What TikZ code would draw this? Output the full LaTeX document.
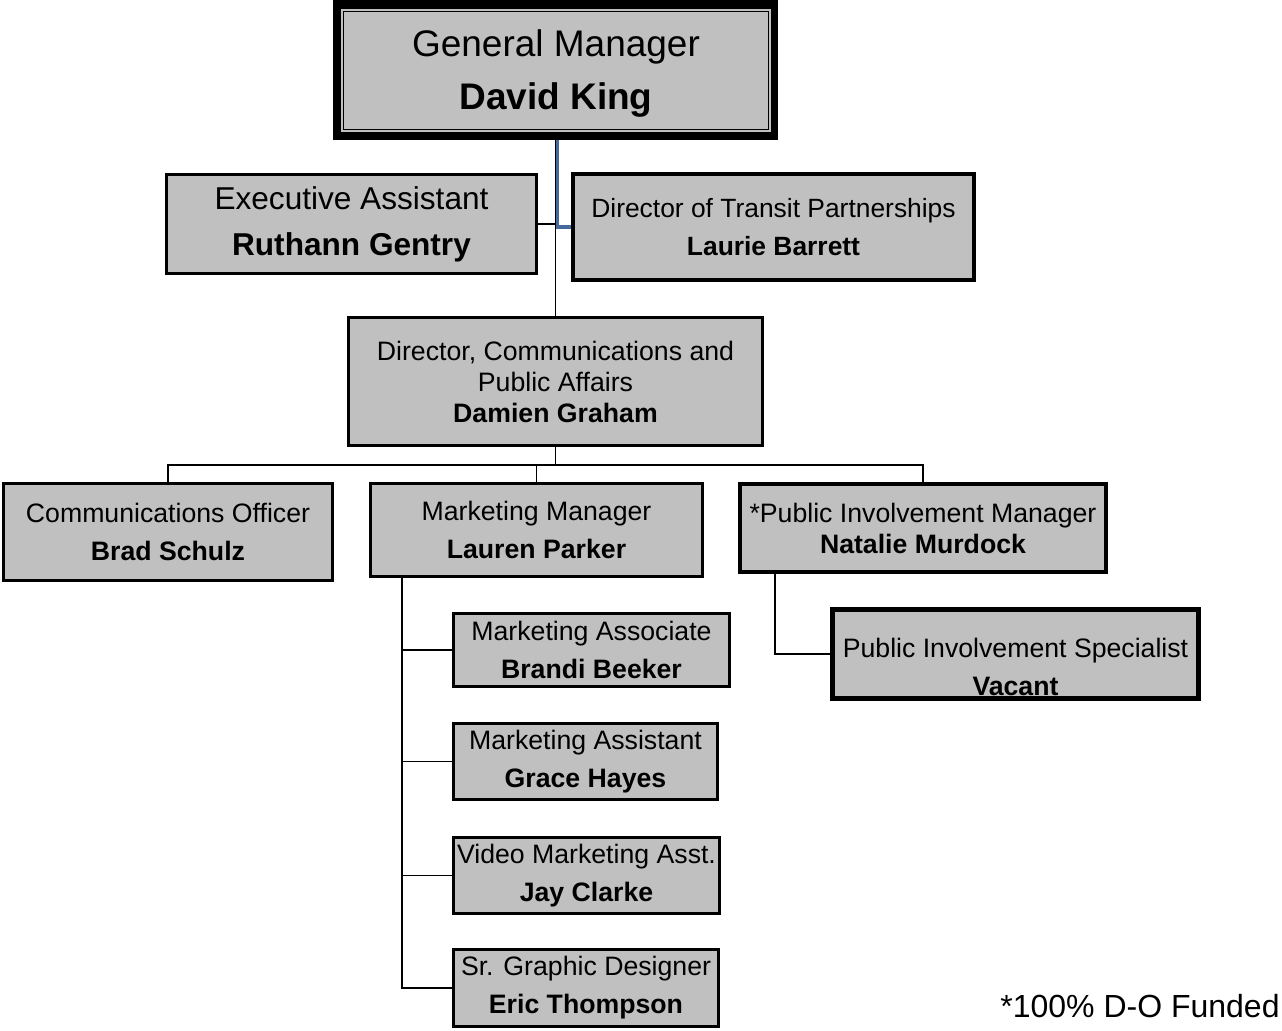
\documentclass[tikz,border=0pt]{standalone}
\usepackage{fontspec}
\setmainfont{Liberation Sans}
\usetikzlibrary{backgrounds}
\definecolor{boxgray}{HTML}{C0C0C0}
\definecolor{linkblue}{RGB}{68,106,156}
\tikzset{
  box/.style={draw=black, fill=boxgray, line width=2.25pt, inner xsep=1pt, inner ysep=0pt, align=center},
  thickbox/.style={box, line width=3pt},
  heavybox/.style={box, line width=3.75pt},
  conn/.style={draw=black, line width=1.4pt},
  blueconn/.style={draw=linkblue, line width=2.5pt},
  fnormal/.style={font=\fontsize{20}{28.5}\selectfont},
  ftight/.style={font=\fontsize{20}{23.25}\selectfont},
  plain/.style={inner sep=0pt, align=center}
}
\begin{document}
\begin{tikzpicture}[x=0.75pt,y=-0.75pt]
\useasboundingbox (0,0) rectangle (1282,1031);
% General Manager
\node[draw=black, fill=white, line width=6pt, minimum width=327.75pt, minimum height=99pt, inner sep=0pt] (GM) at (555.5,70) {};
\node[draw=black, line width=0.6pt, double=boxgray, double distance=1.5pt, fill=boxgray, minimum width=321pt, minimum height=90.75pt, inner sep=0pt] (GMin) at (556,70.5) {};
\node[plain, font=\fontsize{27.75}{39.75}\selectfont] (GMtext) at (556,73.5) {General Manager\\\textbf{David King}};
% Level 2
\node[box, minimum width=277.5pt, minimum height=74.25pt, font=\fontsize{23.7}{34.5}\selectfont] (EA) at (351.5,224) {Executive Assistant\\\textbf{Ruthann Gentry}};
\node[thickbox, minimum width=300.75pt, minimum height=79.5pt, font=\fontsize{19.8}{28.5}\selectfont] (DTP) at (773.5,227) {Director of Transit Partnerships\\\textbf{Laurie Barrett}};
\node[box, ftight, minimum width=310.5pt, minimum height=96pt] (DC) at (555.5,381.5) {Director, Communications and\\Public Affairs\\\textbf{Damien Graham}};
% Level 3
\node[box, font=\fontsize{20}{29}\selectfont, minimum width=246.75pt, minimum height=72.75pt] (CO) at (168,532) {Communications Officer\\\textbf{Brad Schulz}};
\node[box, fnormal, minimum width=249pt, minimum height=69.75pt] (MM) at (536.5,530) {Marketing Manager\\\textbf{Lauren Parker}};
\node[thickbox, ftight, minimum width=274.5pt, minimum height=66pt] (PIM) at (923,528) {*Public Involvement Manager\\\textbf{Natalie Murdock}};
% Specialist
\node[heavybox, minimum width=274.5pt, minimum height=66.75pt] (PIS) at (1015.5,654) {};
\node[plain, fnormal] (PIStext) at (1015.5,667) {Public Involvement Specialist\\\textbf{Vacant}};
% Marketing team
\node[box, fnormal, minimum width=207pt, minimum height=54.75pt] (MA) at (591.5,650) {Marketing Associate\\\textbf{Brandi Beeker}};
\node[box, fnormal, minimum width=198pt, minimum height=57pt] (MS) at (585.5,761.5) {Marketing Assistant\\\textbf{Grace Hayes}};
\node[box, fnormal, minimum width=199.5pt, minimum height=57pt] (VM) at (586.5,875.5) {Video Marketing Asst.\\\textbf{Jay Clarke}};
\node[box, fnormal, minimum width=198.75pt, minimum height=57.75pt] (GD) at (586,988) {Sr. Graphic Designer\\\textbf{Eric Thompson}};
% Footnote
\node[plain, font=\fontsize{24}{28}\selectfont] (note) at (1140,1006) {*100\% D-O Funded};
% Connectors
\coordinate (bus) at (0,465);
\coordinate (mk) at (402,0);
\coordinate (pi) at (775,0);
\begin{pgfonlayer}{background}
\path[conn] (GM.south) -- (DC.north);
\path[blueconn] ([xshift=1.5pt]GM.south) |- (DTP.west);
\path[conn] (EA.east) -- (EA.east -| GM.south);
\path[conn] (DC.south) -- (DC.south |- bus);
\path[conn] (CO.north) -- (CO.north |- bus) -- (PIM.north |- bus) -- (PIM.north);
\path[conn] (MM.north) -- (MM.north |- bus);
\path[conn] (MM.south -| mk) |- (GD.west);
\path[conn] (MA.west) -- (MA.west -| mk);
\path[conn] (MS.west) -- (MS.west -| mk);
\path[conn] (VM.west) -- (VM.west -| mk);
\path[conn] (PIM.south -| pi) |- (PIS.west);
\end{pgfonlayer}
\end{tikzpicture}
\end{document}
